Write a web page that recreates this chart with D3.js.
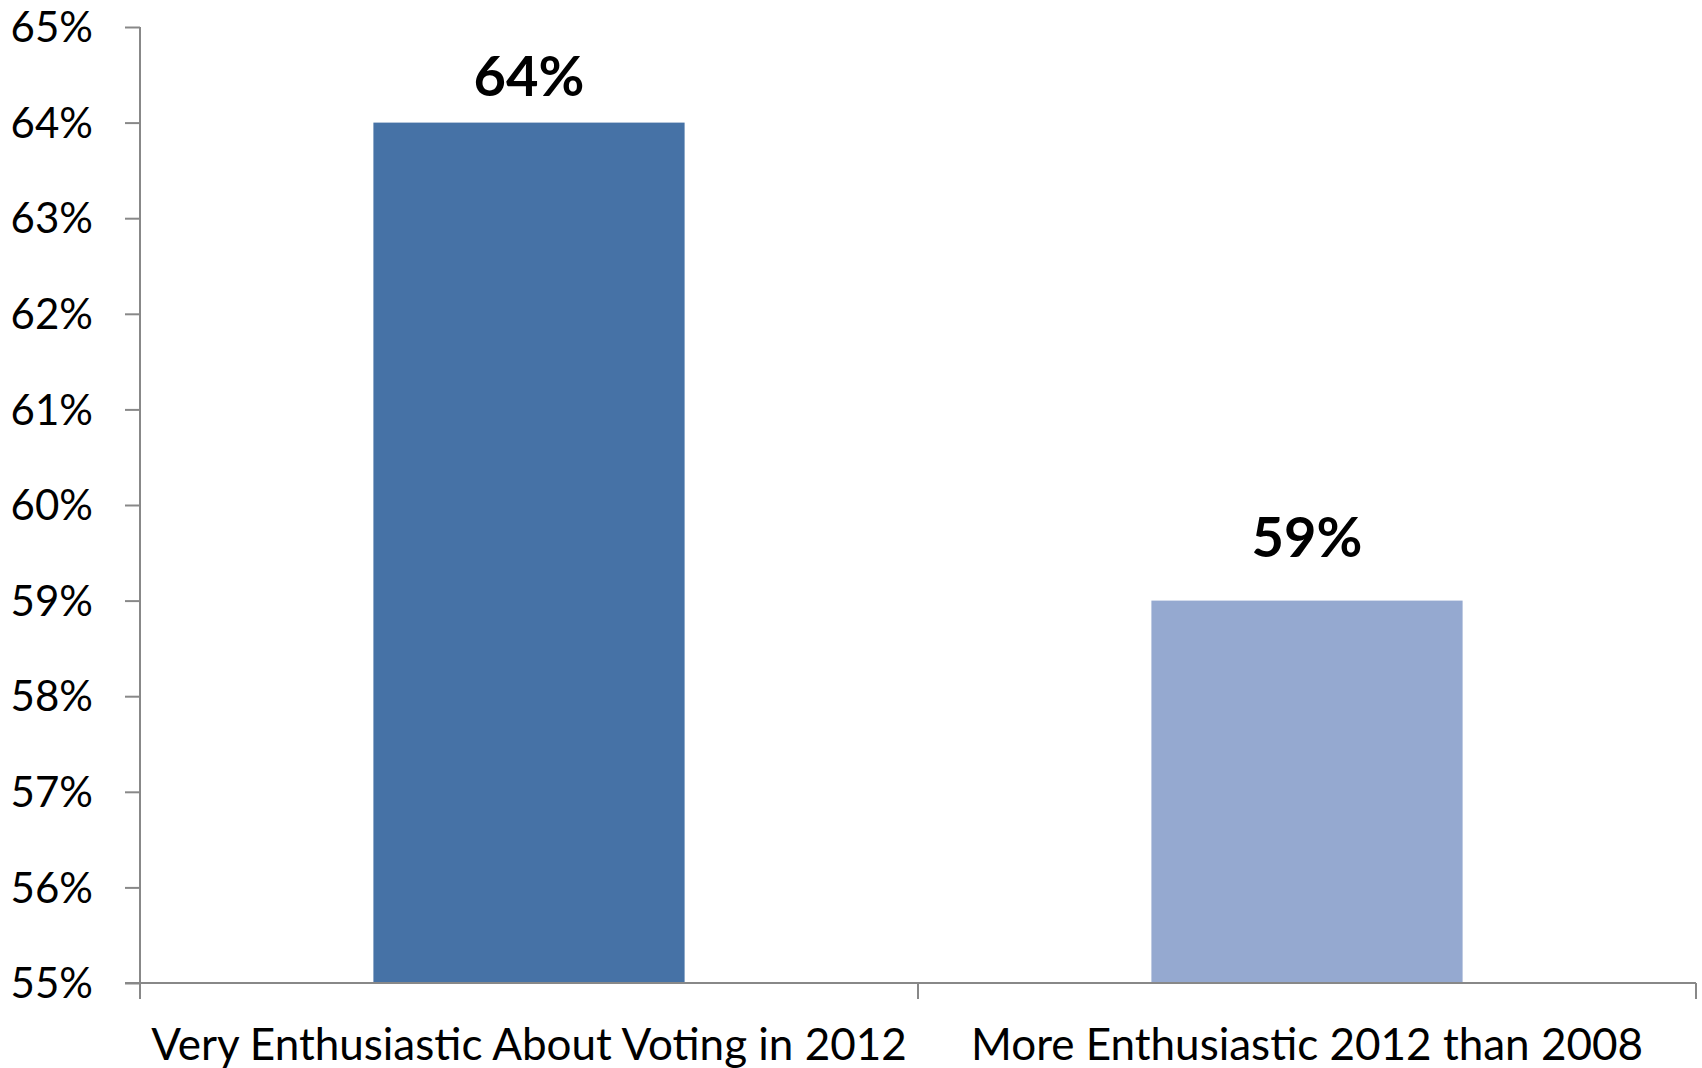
<!DOCTYPE html>
<html>
<head>
<meta charset="utf-8">
<script src="https://cdnjs.cloudflare.com/ajax/libs/d3/7.8.5/d3.min.js"></script>
<style>
  html, body { margin: 0; padding: 0; background: #ffffff; }
  svg { display: block; }
  text { font-family: Lato, "Open Sans", "Liberation Sans", sans-serif; fill: #000; }
</style>
</head>
<body>
<svg id="chart" width="1702" height="1068"></svg>
<script>
const categories = ["Very Enthusiastic About Voting in 2012", "More Enthusiastic 2012 than 2008"];
const values = [64, 59];
const valueLabels = ["64%", "59%"];
const yTicks = [55, 56, 57, 58, 59, 60, 61, 62, 63, 64, 65];

const barColors = ["#4672A6", "#95A9D0"];
const labelGaps = [27, 44];
const axisColor = "#888888";

const svg = d3.select("#chart");
const mLeft = 140, mRight = 1696, mTop = 27, mBottom = 983;

const x = d3.scaleBand().domain(categories).range([mLeft, mRight]).paddingInner(0.6).paddingOuter(0.3);
const y = d3.scaleLinear().domain([55, 65]).range([mBottom, mTop]);

// bars
svg.selectAll("rect.bar").data(categories).enter().append("rect")
  .attr("class", "bar")
  .attr("x", d => x(d))
  .attr("y", (d, i) => y(values[i]))
  .attr("width", x.bandwidth())
  .attr("height", (d, i) => y(55) - y(values[i]))
  .attr("fill", (d, i) => barColors[i]);

// y axis
const yAxis = svg.append("g").attr("transform", `translate(${mLeft},0)`)
  .call(d3.axisLeft(y).tickValues(yTicks).tickFormat(d => d + "%").tickSize(15).tickSizeOuter(0).tickPadding(32));
yAxis.select(".domain").remove();
yAxis.selectAll(".tick line").attr("stroke", axisColor).attr("stroke-width", 2);
yAxis.selectAll(".tick text").attr("font-size", 42).attr("font-family", "Lato, 'Open Sans', sans-serif").attr("dy", "0.35em");
svg.append("line").attr("x1", mLeft).attr("x2", mLeft).attr("y1", y(65)).attr("y2", mBottom + 16)
  .attr("stroke", axisColor).attr("stroke-width", 2);

// x axis line + boundary ticks
svg.append("line").attr("x1", mLeft - 15).attr("x2", mRight).attr("y1", mBottom).attr("y2", mBottom)
  .attr("stroke", axisColor).attr("stroke-width", 2);
const boundaries = d3.range(categories.length + 1).map(i => mLeft + i * x.step());
svg.selectAll("line.xt").data(boundaries).enter().append("line")
  .attr("class", "xt")
  .attr("x1", d => d).attr("x2", d => d)
  .attr("y1", mBottom).attr("y2", mBottom + 16)
  .attr("stroke", axisColor).attr("stroke-width", 2);

// category labels
const xAxis = svg.append("g").attr("transform", `translate(0,${mBottom})`)
  .call(d3.axisBottom(x).tickSize(0).tickPadding(0));
xAxis.select(".domain").remove();
xAxis.selectAll(".tick text").attr("font-size", 44).attr("font-family", "Lato, 'Open Sans', sans-serif")
  .attr("dy", null).attr("y", 77);

// value labels
svg.selectAll("text.vl").data(categories).enter().append("text")
  .attr("class", "vl")
  .attr("x", d => x(d) + x.bandwidth() / 2)
  .attr("y", (d, i) => y(values[i]) - labelGaps[i])
  .attr("text-anchor", "middle")
  .attr("font-size", 56)
  .attr("font-weight", "bold")
  .text((d, i) => valueLabels[i]);
</script>
</body>
</html>
